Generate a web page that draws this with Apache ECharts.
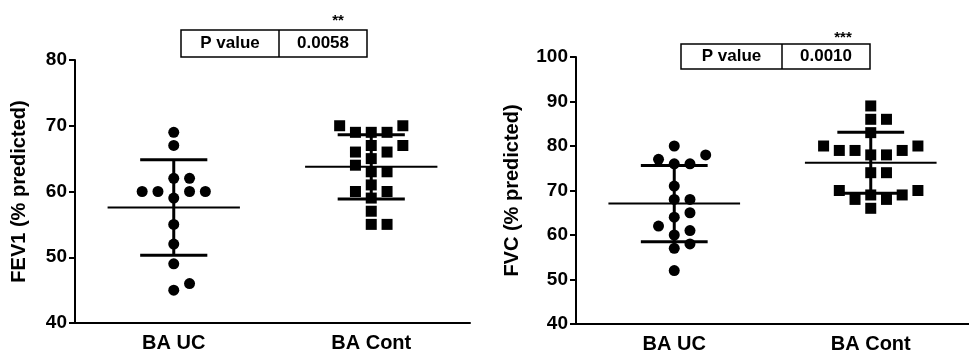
<!DOCTYPE html>
<html>
<head>
<meta charset="utf-8">
<script src="https://cdn.jsdelivr.net/npm/echarts@6/dist/echarts.min.js"></script>
<style>
html,body{margin:0;padding:0;background:#fff;}
#chart{width:969px;height:354px;}
</style>
</head>
<body>
<div id="chart"></div>
<script>
// ---- data ----
const categories = ['BA UC', 'BA Cont'];
const fev1UC = [69, 67, 62, 62, 60, 60, 60, 60, 59, 55, 52, 49, 46, 45];
const fev1Cont = [70, 69, 69, 69, 70, 67, 67, 66, 66, 65, 64, 63, 63, 61, 60, 60, 59, 57, 55, 55];
const fvcUC = [80, 78, 76, 76, 77, 71, 68, 68, 65, 64, 62, 61, 60, 58, 57, 52];
const fvcCont = [89, 86, 86, 83, 80, 79, 78, 78, 79, 79, 80, 74, 74, 70, 70, 68, 69, 68, 69, 66];
const fev1Ticks = [40, 50, 60, 70, 80];
const fvcTicks = [40, 50, 60, 70, 80, 90, 100];
const yTitles = ['FEV1 (% predicted)', 'FVC (% predicted)'];
const pLabel = 'P value';
const pValues = ['0.0058', '0.0010'];
const stars = ['**', '***'];

// ---- layout constants ----
const FONT = 'Liberation Sans';
const grids = [
  {left: 75, top: 60, width: 395, height: 263},
  {left: 576, top: 57, width: 405, height: 268}
];
const SLOT = 0.08, MIN_DIST = 12, SYM = 11;

function mean(a){return a.reduce((s,v)=>s+v,0)/a.length;}
function sd(a){const m=mean(a);return Math.sqrt(a.reduce((s,v)=>s+(v-m)*(v-m),0)/(a.length-1));}

// simple beeswarm layout in value units
function swarm(vals, center, pxPerX, pxPerY) {
  const sorted = vals.slice().sort((a,b)=>a-b);
  const placed = [];
  for (const v of sorted) {
    for (let k = 0; k < 60; k++) {
      const s = k === 0 ? 0 : (k % 2 === 1 ? (k + 1) / 2 : -k / 2);
      const x = center + s * SLOT;
      const ok = placed.every(p => Math.abs(p[0]-x)*pxPerX >= MIN_DIST || Math.abs(p[1]-v)*pxPerY >= MIN_DIST);
      if (ok) { placed.push([x, v]); break; }
    }
  }
  return placed;
}

const panels = [
  {groups: [fev1UC, fev1Cont], ticks: fev1Ticks},
  {groups: [fvcUC, fvcCont], ticks: fvcTicks}
];

const xAxis = [], yAxis = [], series = [];
panels.forEach((p, i) => {
  const ymin = p.ticks[0], ymax = p.ticks[p.ticks.length-1];
  xAxis.push({
    type: 'category', gridIndex: i, data: categories, boundaryGap: true,
    axisLine: {lineStyle: {color: '#000', width: 2}},
    axisTick: {alignWithLabel: true, length: 6, lineStyle: {color: '#000', width: 2}},
    axisLabel: {color: '#000', fontFamily: FONT, fontWeight: 'bold', fontSize: 20, margin: 10}
  });
  yAxis.push({
    type: 'value', gridIndex: i, min: ymin, max: ymax, interval: 10,
    name: yTitles[i], nameLocation: 'middle', nameRotate: 90, nameGap: i === 0 ? 46 : 54,
    nameTextStyle: {color: '#000', fontFamily: FONT, fontWeight: 'bold', fontSize: 20},
    splitLine: {show: false},
    axisLine: {show: true, lineStyle: {color: '#000', width: 2}},
    axisTick: {show: true, length: 6, lineStyle: {color: '#000', width: 2}},
    axisLabel: {color: '#000', fontFamily: FONT, fontWeight: 'bold', fontSize: 19, margin: 8}
  });
});
panels.forEach((p, i) => {
  xAxis.push({type: 'value', gridIndex: i, min: 0.5, max: 2.5, show: false});
});

panels.forEach((p, i) => {
  const g = grids[i];
  const ymin = p.ticks[0], ymax = p.ticks[p.ticks.length-1];
  const pxPerX = g.width / 2, pxPerY = g.height / (ymax - ymin);
  const stats = p.groups.map((arr, k) => [k + 1, mean(arr), sd(arr)]);
  series.push({
    type: 'custom', xAxisIndex: 2 + i, yAxisIndex: i, data: stats, z: 2,
    renderItem: function (params, api) {
      const x = api.value(0), m = api.value(1), s = api.value(2);
      const c = api.coord([x, m]), t = api.coord([x, m + s]), b = api.coord([x, m - s]);
      const hw = api.size([0.335, 0])[0], hs = api.size([0.17, 0])[0];
      return {type: 'group', children: [
        {type: 'line', shape: {x1: c[0]-hw, y1: c[1], x2: c[0]+hw, y2: c[1]}, style: {stroke: '#000', lineWidth: 2}},
        {type: 'line', shape: {x1: t[0]-hs, y1: t[1], x2: t[0]+hs, y2: t[1]}, style: {stroke: '#000', lineWidth: 3}},
        {type: 'line', shape: {x1: b[0]-hs, y1: b[1], x2: b[0]+hs, y2: b[1]}, style: {stroke: '#000', lineWidth: 3}},
        {type: 'line', shape: {x1: t[0], y1: t[1], x2: b[0], y2: b[1]}, style: {stroke: '#000', lineWidth: 3}}
      ]};
    }
  });
  p.groups.forEach((arr, k) => {
    series.push({
      type: 'scatter', xAxisIndex: 2 + i, yAxisIndex: i, z: 3,
      symbol: k === 0 ? 'circle' : 'rect', symbolSize: SYM,
      itemStyle: {color: '#000', opacity: 1},
      emphasis: {disabled: true},
      data: swarm(arr, k + 1, pxPerX, pxPerY)
    });
  });
});

const boxes = [
  {x: 181, y: 30, w: 186, h: 27, div: 279, star: [338, 21]},
  {x: 681, y: 44, w: 189, h: 25, div: 782, star: [843, 38]}
];
const graphic = [];
boxes.forEach((b, i) => {
  graphic.push({type: 'rect', shape: {x: b.x, y: b.y, width: b.w, height: b.h}, style: {fill: '#fff', stroke: '#000', lineWidth: 1.5}});
  graphic.push({type: 'line', shape: {x1: b.div, y1: b.y, x2: b.div, y2: b.y + b.h}, style: {stroke: '#000', lineWidth: 1.5}});
  const cy = b.y + b.h / 2;
  graphic.push({type: 'text', x: (b.x + b.div) / 2, y: cy, style: {text: pLabel, fill: '#000', font: 'bold 17px "' + FONT + '"', textAlign: 'center', textVerticalAlign: 'middle'}});
  graphic.push({type: 'text', x: (b.div + b.x + b.w) / 2, y: cy, style: {text: pValues[i], fill: '#000', font: 'bold 17px "' + FONT + '"', textAlign: 'center', textVerticalAlign: 'middle'}});
  graphic.push({type: 'text', x: b.star[0], y: b.star[1], style: {text: stars[i], fill: '#000', font: 'bold 15px "' + FONT + '"', textAlign: 'center', textVerticalAlign: 'middle'}});
});

const chart = echarts.init(document.getElementById('chart'), null, {renderer: 'canvas'});
chart.setOption({
  backgroundColor: '#fff',
  animation: false,
  grid: grids,
  xAxis: xAxis,
  yAxis: yAxis,
  series: series,
  graphic: graphic
});
</script>
</body>
</html>
